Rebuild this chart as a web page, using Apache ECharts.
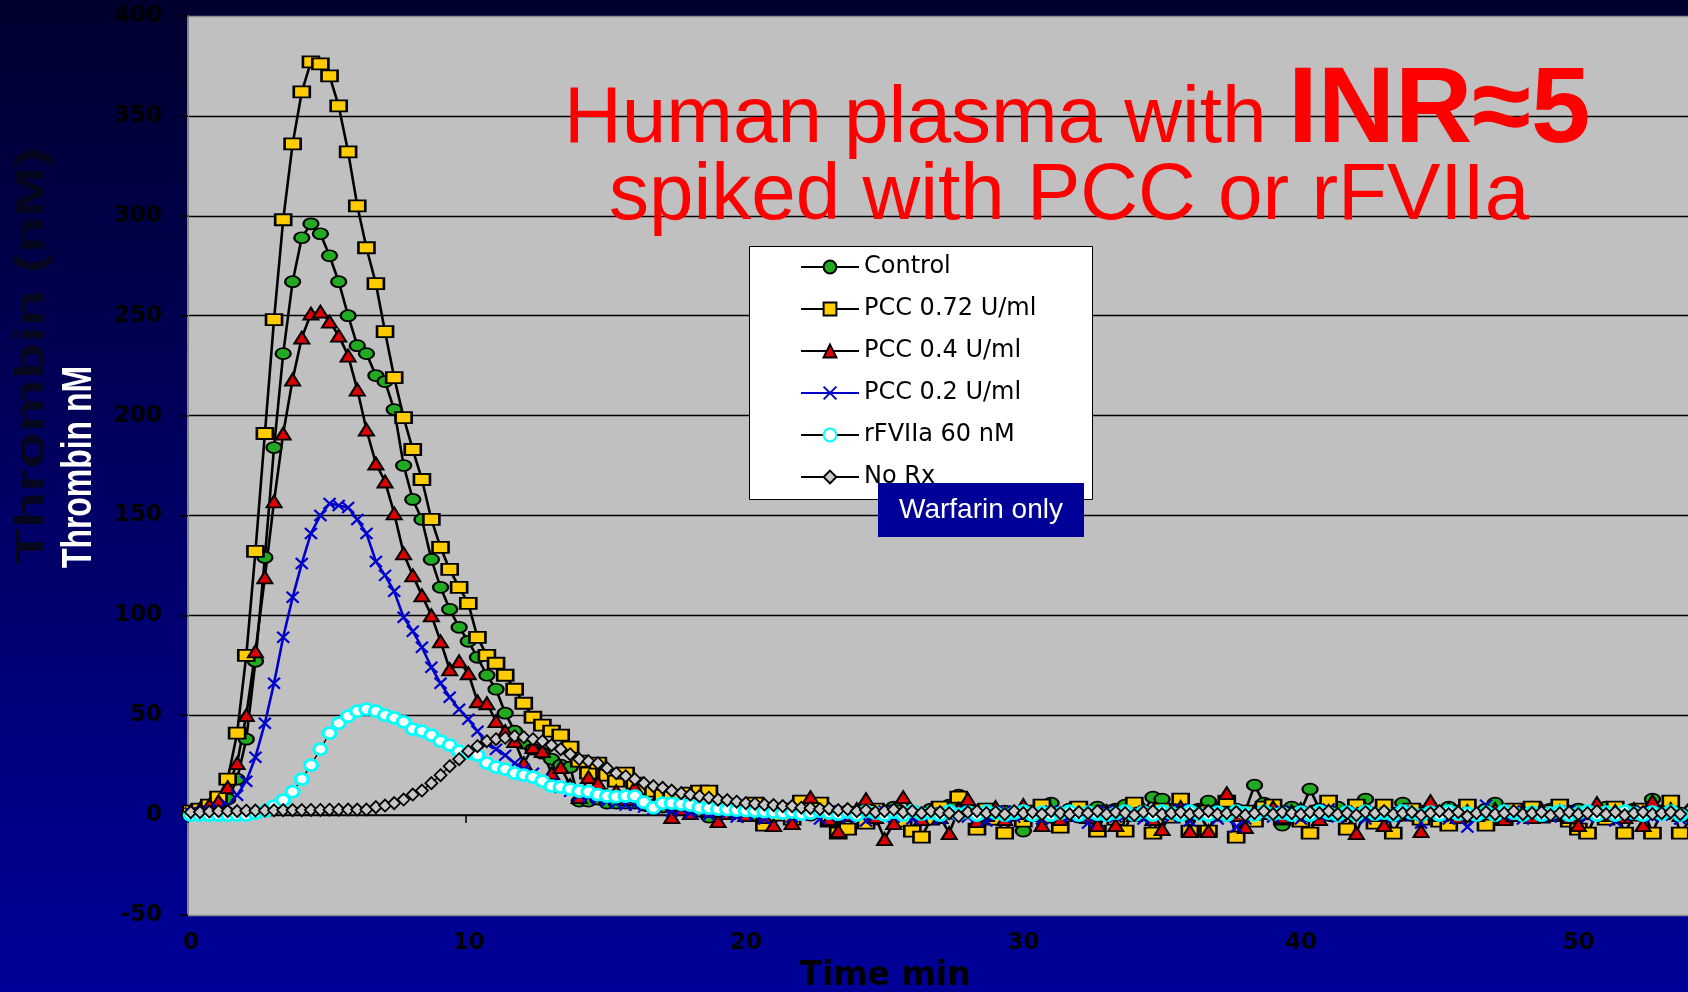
<!DOCTYPE html>
<html>
<head>
<meta charset="utf-8">
<script src="https://cdn.jsdelivr.net/npm/echarts@6/dist/echarts.min.js"></script>
<style>
html,body{margin:0;padding:0;background:#000055;}
#chart{width:1688px;height:992px;background:linear-gradient(to bottom,#00002e 0%,#000099 100%);}
</style>
</head>
<body>
<div id="chart"></div>
<script>
// Sampling times (minutes)
const timeMin = [
0.1,0.43,0.77,1.1,1.43,1.77,2.1,2.43,2.77,3.1,3.43,3.77,4.1,4.43,4.77,
5.1,5.43,5.77,6.1,6.43,6.77,7.1,7.43,7.77,8.1,8.43,8.77,9.1,9.43,9.77,
10.1,10.43,10.77,11.1,11.43,11.77,12.1,12.43,12.77,13.1,13.43,13.77,14.1,14.43,14.77,
15.1,15.43,15.77,16.1,16.43,16.77,17.1,17.43,17.77,18.1,18.43,18.77,19.1,19.43,19.77,
20.1,20.43,20.77,21.1,21.43,21.77,22.1,22.43,22.77,23.1,23.43,23.77,24.1,24.43,24.77,
25.1,25.43,25.77,26.1,26.43,26.77,27.1,27.43,27.77,28.1,28.43,28.77,29.1,29.43,29.77,
30.1,30.43,30.77,31.1,31.43,31.77,32.1,32.43,32.77,33.1,33.43,33.77,34.1,34.43,34.77,
35.1,35.43,35.77,36.1,36.43,36.77,37.1,37.43,37.77,38.1,38.43,38.77,39.1,39.43,39.77,
40.1,40.43,40.77,41.1,41.43,41.77,42.1,42.43,42.77,43.1,43.43,43.77,44.1,44.43,44.77,
45.1,45.43,45.77,46.1,46.43,46.77,47.1,47.43,47.77,48.1,48.43,48.77,49.1,49.43,49.77,
50.1,50.43,50.77,51.1,51.43,51.77,52.1,52.43,52.77,53.1,53.43,53.77,
54.1
];

const control = [
2,3,4,5,8,18,38,77,129,184,
231,267,289,296,291,280,267,250,235,231,
220,217,203,175,158,148,128,114,103,94,
87,79,70,63,51,42,36,33,31,28,
25,24,7,7,8,6,6,6,6,5,
5,4,5,3,4,2,-1,0,1,2,
2,0,-2,1,3,-1,2,0,4,1,
-1,2,0,3,-2,1,4,0,2,-1,
3,1,5,10,2,0,3,-1,2,0,
-8,2,1,6,0,3,-1,2,4,1,
3,5,0,2,9,8,1,4,0,3,
7,2,4,3,2,15,6,1,-5,4,
2,13,3,0,4,1,2,8,0,3,
1,6,0,2,3,0,4,1,2,0,
3,6,1,2,0,4,1,3,0,2,
3,1,0,4,2,0,3,1,8,2,
5,1,6
];

const pcc072 = [
2,3,5,9,18,41,80,132,191,248,
298,336,362,377,376,370,355,332,305,284,
266,242,219,199,183,168,148,134,123,114,
106,89,80,76,70,63,56,49,45,42,
40,34,27,21,26,20,17,21,16,13,
12,10,9,8,11,12,12,6,5,4,
2,6,-5,0,3,-2,7,2,6,-3,
-9,-7,1,-4,3,0,2,-3,-8,-11,
-2,4,1,9,2,-7,3,-2,-9,0,
-3,2,5,-1,-6,1,4,0,-8,2,
-2,-8,6,1,-9,3,-1,8,-8,2,
-8,0,7,-11,2,-3,4,5,-2,1,
-3,-9,2,7,0,-7,5,1,-4,5,
-9,0,3,-2,1,-3,-5,2,5,0,
-5,1,-2,3,0,4,-1,2,5,-3,
-7,-9,1,-2,4,-9,0,3,-9,2,
7,-9,-3
];

const pcc04 = [
2,3,5,7,14,26,50,82,119,157,
191,218,239,251,252,247,240,230,213,193,
176,167,151,131,120,110,100,87,73,77,
71,57,56,47,42,37,26,34,32,21,
24,15,9,19,16,10,12,8,14,7,
5,6,-1,3,1,4,2,-3,1,2,
0,3,-1,-5,2,-4,1,9,2,-2,
-8,0,3,8,-1,-12,-4,9,1,-2,
2,-1,-9,3,8,-3,0,4,-2,1,
5,0,-5,2,-2,3,0,-1,-5,2,
-5,2,0,3,-2,-7,1,4,-8,2,
-8,3,11,0,-6,2,1,4,-1,2,
3,0,-2,2,0,1,-9,3,0,-5,
0,2,1,-8,7,0,3,-1,2,0,
1,3,-2,0,2,-1,3,0,2,-1,
-5,1,6,0,2,-1,3,-5,7,1,
3,0,-2
];

const pcc02 = [
1,1,2,3,5,10,17,29,46,66,
89,109,126,141,150,156,155,154,148,141,
127,120,112,99,92,84,74,66,59,53,
48,42,36,33,30,26,23,21,18,16,
14,12,10,9,8,7,6,5,5,4,
3,4,2,3,1,2,0,2,1,-1,
1,0,-2,1,2,-1,0,1,-2,2,
0,-1,1,-3,0,2,-1,1,-2,0,
1,-2,0,2,-1,1,-3,0,2,-1,
0,1,-2,2,0,-1,1,-4,0,2,
-1,0,2,-2,1,0,-1,3,-3,1,
0,-2,1,-6,-2,0,1,-1,2,0,
-2,1,0,3,-1,0,2,-2,1,0,
-1,2,0,-4,1,0,-2,1,-6,0,
5,1,0,2,-2,0,1,-1,0,2,
0,-1,1,0,-3,1,0,2,-1,0,
1,-2,0
];

const rfviia = [
0,0,0,0,0,0,0,1,2,4.5,
7.5,11.7,18,25,33,41,46,49.5,52,53,
52,50,48.7,46.7,43,42,40,37,35,32,
31,30,26,24,23,21,20,19,17,14.5,
14,13,12,11.7,10.3,9.5,9.2,9.5,9.5,6.5,
3.7,6,6,5.5,5,3.7,3.5,3,2.8,2.5,
2.2,2,1.8,1.5,1,1.5,0.5,1,2,1,
0.5,1.5,0,2,1,0,1.5,0,2,0.5,
1,0,2,0.5,1.5,0,2,1,0,1,
2,0,1.5,0,1,2,0,1.5,0.5,0,
1,2,0,1.5,0,2,1,0,2,0.5,
0,1.5,0,2,1,0,2,0.5,1,0,
1.5,0,2,1,0,1.5,0,2,0.5,1,
0,2,1,0,1.5,0,2,0.5,1,0,
1.5,0,2,1,0,1.5,0,1,2,0,
1,2,0,1.5,0,2,1,0,1.5,0.5,
2,0,1
];

const noRx = [
1.5,1.5,1.8,2,2,2,2.2,2.3,2.3,2.4,
2.5,2.5,2.5,2.6,2.6,2.7,2.7,2.8,2.8,2.8,
4,4.8,6,7.8,10.3,12.3,16,20,24.5,28,
32,34.5,37,38,38.7,39.5,39,38,37,35,
33,30.5,28,27,26,23.5,21,19.5,18,16,
14.5,13.7,12.3,11,10.3,9.5,8.7,7.7,7.5,6.7,
6,5.7,5.3,5,4.5,4.5,3.7,3.5,3,3.2,
2.5,3,2,2.5,1.5,2,2.8,1.5,2,1,
2,1.5,1,-0.5,1.5,2,1,1.5,0.5,2,
1,1.5,0.5,2,1,0.5,1.5,1,2,0.5,
1.5,1,0,1.5,2,0.5,1,1.5,0.5,1,
2,0.5,1,1.5,0,1,2,0.5,1.5,1,
0.5,1.5,1,2,0.5,1,0,1.5,1,2,
0.5,1,1.5,0,1,2,0.5,1.5,-0.5,1,
1.5,0.5,1,2,0.5,1,1.5,0,1,1.5,
0.5,1,2,0.5,1.5,0,1,1.5,0.5,1,
1.5,0.5,1
];

const seriesNames = ['Control', 'PCC 0.72 U/ml', 'PCC 0.4 U/ml', 'PCC 0.2 U/ml', 'rFVIIa 60 nM', 'No Rx'];
const yTicks = {min: -50, max: 400, interval: 50};
const xTicks = {min: 0, max: 54.05, interval: 10};

function pairs(values) { return timeMin.map((t, i) => [t, values[i]]); }

const chart = echarts.init(document.getElementById('chart'), null, {renderer: 'canvas'});

const splitColors = [];
for (let v = yTicks.min; v <= yTicks.max; v += yTicks.interval) {
  splitColors.push((v === yTicks.min || v === yTicks.max) ? '#8c8c8c' : '#000000');
}

const axisFont = {fontFamily: 'DejaVu Sans', fontWeight: 'bold'};

const option = {
  animation: false,
  backgroundColor: 'transparent',
  grid: {left: 188, top: 16, right: 0, bottom: 77, show: true, backgroundColor: '#c0c0c0', borderWidth: 0,
    containLabel: false, outerBoundsMode: 'none'},
  xAxis: [
    {
      type: 'value', min: xTicks.min, max: xTicks.max, interval: xTicks.interval, position: 'bottom',
      axisLine: {show: false, onZero: false},
      axisTick: {show: false},
      splitLine: {show: false},
      axisLabel: Object.assign({color: '#000', fontSize: 23, margin: 17, showMaxLabel: false, padding: [0, 0, 0, 6],
        formatter: v => (v % 10 === 0 ? String(v) : '')}, axisFont),
      name: 'Time min', nameLocation: 'middle', nameGap: 45,
      nameTextStyle: Object.assign({color: '#000', fontSize: 33, padding: [0, 106, 0, 0]}, axisFont)
    },
    {
      type: 'value', min: xTicks.min, max: xTicks.max, interval: xTicks.interval, position: 'top',
      axisLine: {show: true, onZero: true, lineStyle: {color: '#000', width: 1.5}},
      axisTick: {show: true, inside: true, length: 8, lineStyle: {color: '#000', width: 1.5}},
      axisLabel: {show: false},
      splitLine: {show: false}
    }
  ],
  yAxis: {
    type: 'value', min: yTicks.min, max: yTicks.max, interval: yTicks.interval,
    axisLine: {show: true, lineStyle: {color: '#858585', width: 2}},
    axisTick: {show: true, length: 9, lineStyle: {color: '#000', width: 1.5}},
    axisLabel: Object.assign({color: '#000', fontSize: 23, margin: 26}, axisFont),
    splitLine: {show: true, lineStyle: {color: splitColors, width: 1.4}}
  },
  legend: {
    orient: 'vertical', left: 800, top: 254, padding: 0,
    itemWidth: 58, itemHeight: 16, itemGap: 16, selectedMode: false,
    textStyle: {fontFamily: 'DejaVu Sans', fontSize: 24, color: '#000', lineHeight: 26},
    data: seriesNames, z: 4
  },
  graphic: [
    {type: 'text', x: 32, y: 356, rotation: Math.PI / 2, scaleX: 1.42, z: 1,
      style: {text: 'Thrombin (nM)', font: 'bold 42px "Liberation Sans"', fill: '#06061e',
        align: 'center', verticalAlign: 'middle', textAlign: 'center', textVerticalAlign: 'middle'}},
    {type: 'text', x: 79, y: 467, rotation: Math.PI / 2, scaleX: 0.76, z: 1,
      style: {text: 'Thrombin nM', font: 'bold 42px "Liberation Sans"', fill: '#ffffff',
        align: 'center', verticalAlign: 'middle', textAlign: 'center', textVerticalAlign: 'middle'}},
    {type: 'text', x: 564, y: 120, z: 5,
      style: {text: 'Human plasma with ', font: '80px "Liberation Sans"', fill: '#ff0000',
        align: 'left', verticalAlign: 'middle', textAlign: 'left', textVerticalAlign: 'middle'}},
    {type: 'text', x: 1288, y: 112, z: 5,
      style: {text: 'INR≈5', font: 'bold 107px "Liberation Sans"', fill: '#ff0000',
        align: 'left', verticalAlign: 'middle', textAlign: 'left', textVerticalAlign: 'middle'}},
    {type: 'text', x: 609, y: 197, z: 5,
      style: {text: 'spiked with PCC or rFVIIa', font: '80px "Liberation Sans"', fill: '#ff0000',
        align: 'left', verticalAlign: 'middle', textAlign: 'left', textVerticalAlign: 'middle'}},
    {type: 'rect', z: 3, shape: {x: 749.5, y: 246.5, width: 343, height: 253},
      style: {fill: '#ffffff', stroke: '#000000', lineWidth: 1}},
    {type: 'rect', z: 10, shape: {x: 878, y: 483, width: 206, height: 54},
      style: {fill: '#000099'}},
    {type: 'text', x: 981, y: 510, z: 11,
      style: {text: 'Warfarin only', font: '28px "Liberation Sans"', fill: '#ffffff',
        align: 'center', verticalAlign: 'middle', textAlign: 'center', textVerticalAlign: 'middle'}}
  ],
  series: [
    {name: seriesNames[0], type: 'line', data: pairs(control), symbol: 'circle', symbolSize: [15, 11],
      itemStyle: {color: '#22aa22', borderColor: '#000', borderWidth: 2},
      lineStyle: {color: '#000', width: 2.6}, emphasis: {disabled: true}},
    {name: seriesNames[1], type: 'line', data: pairs(pcc072), symbol: 'rect', symbolSize: [16, 11],
      itemStyle: {color: '#ffcc00', borderColor: '#000', borderWidth: 2.2},
      lineStyle: {color: '#000', width: 2.6}, emphasis: {disabled: true}},
    {name: seriesNames[2], type: 'line', data: pairs(pcc04), symbol: 'triangle', symbolSize: [15, 12],
      itemStyle: {color: '#dd0000', borderColor: '#000', borderWidth: 2},
      lineStyle: {color: '#000', width: 2.6}, emphasis: {disabled: true}},
    {name: seriesNames[3], type: 'line', data: pairs(pcc02), symbol: 'path://M0,0L10,10M10,0L0,10', symbolSize: [12, 11],
      itemStyle: {color: '#0000cc', borderColor: '#0000cc', borderWidth: 2.2},
      lineStyle: {color: '#0000cc', width: 2.6}, emphasis: {disabled: true}},
    {name: seriesNames[4], type: 'line', data: pairs(rfviia), symbol: 'circle', symbolSize: [13, 11],
      itemStyle: {color: '#ffffff', borderColor: '#00ffff', borderWidth: 3},
      lineStyle: {color: '#000', width: 1.3}, emphasis: {disabled: true}},
    {name: seriesNames[5], type: 'line', data: pairs(noRx), symbol: 'diamond', symbolSize: [12, 12],
      itemStyle: {color: '#c8c8c8', borderColor: '#000', borderWidth: 1.8},
      lineStyle: {color: '#000', width: 1.3}, emphasis: {disabled: true}}
  ]
};

chart.setOption(option);
</script>
</body>
</html>
